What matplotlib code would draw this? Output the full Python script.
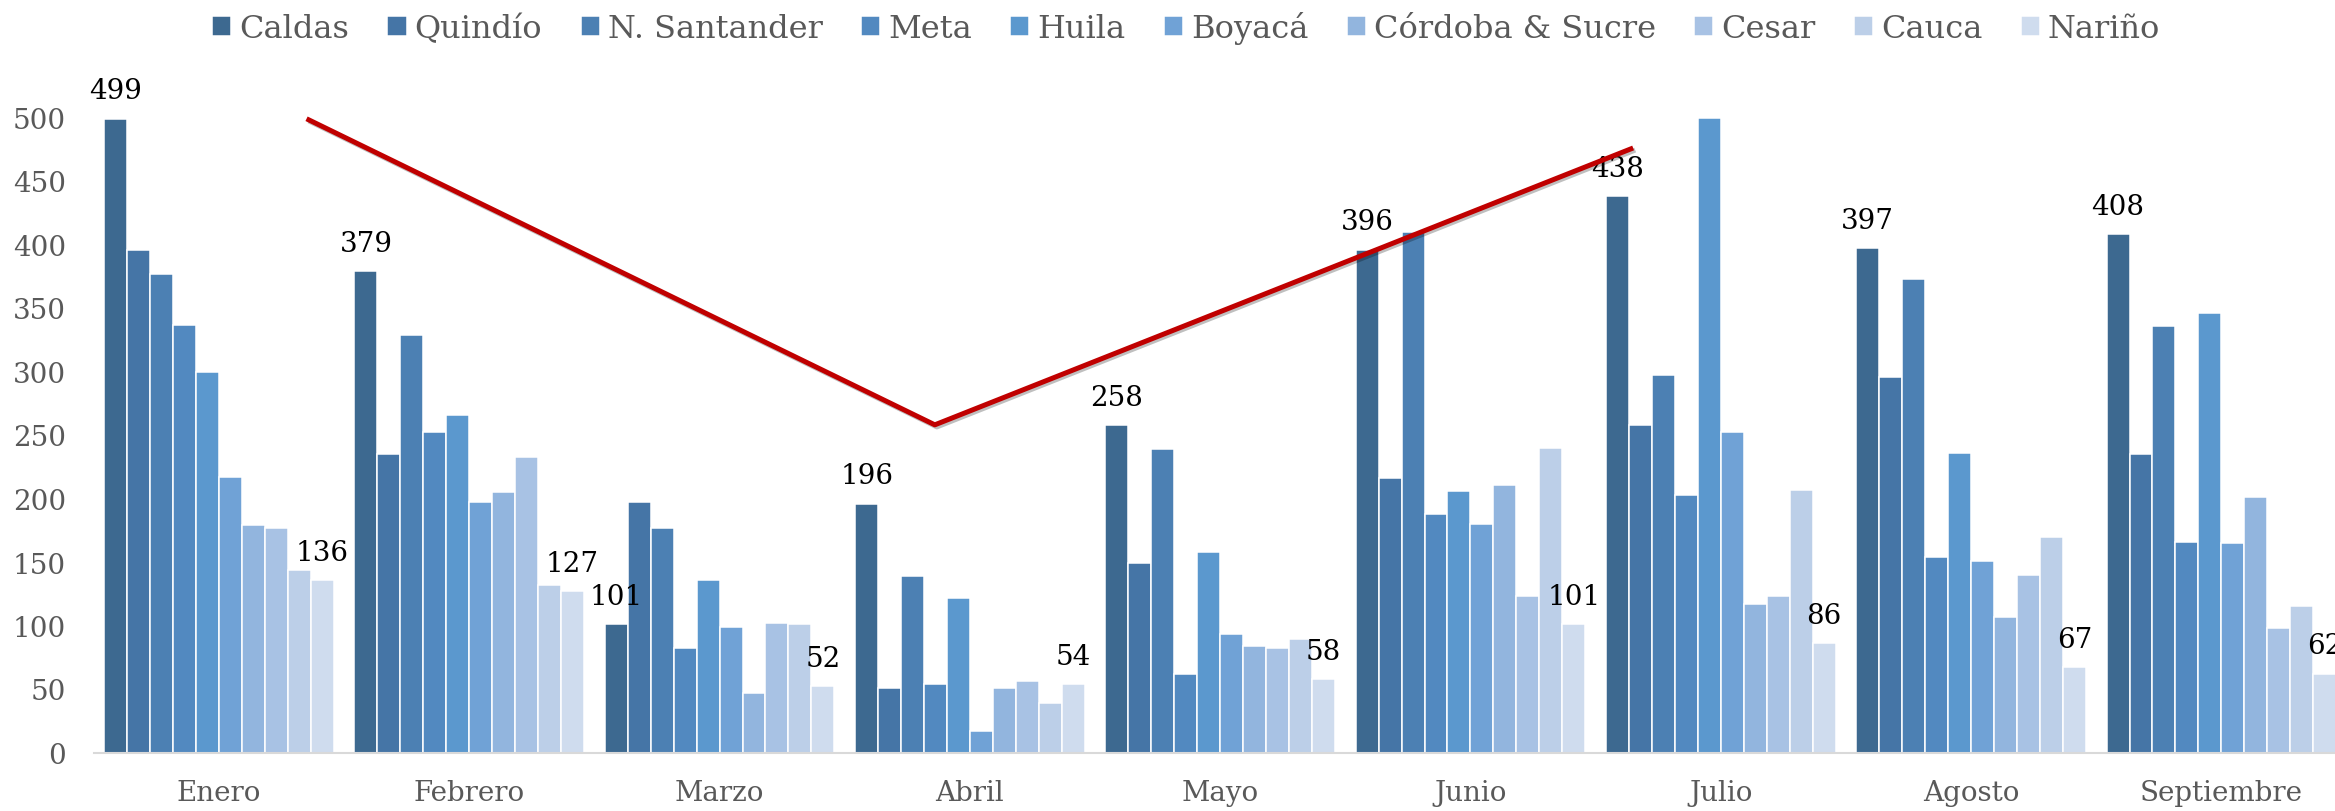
import matplotlib
matplotlib.use("Agg")
import matplotlib.pyplot as plt
import matplotlib.patheffects as pe
import numpy as np

plt.rcParams['font.family'] = ['DejaVu Serif']

months = ["Enero", "Febrero", "Marzo", "Abril", "Mayo", "Junio", "Julio", "Agosto", "Septiembre"]
series_names = ["Caldas", "Quindío", "N. Santander", "Meta", "Huila", "Boyacá",
                "Córdoba & Sucre", "Cesar", "Cauca", "Nariño"]

caldas      = [499, 379, 101, 196, 258, 396, 438, 397, 408]
quindio     = [396, 235, 197, 51, 149, 216, 258, 296, 235]
n_santander = [377, 329, 177, 139, 239, 410, 297, 373, 336]
meta        = [337, 252, 82, 54, 62, 188, 203, 154, 166]
huila       = [300, 266, 136, 122, 158, 206, 500, 236, 346]
boyaca      = [217, 197, 99, 17, 93, 180, 252, 151, 165]
cordoba     = [179, 205, 47, 51, 84, 211, 117, 107, 201]
cesar       = [177, 233, 102, 56, 82, 123, 123, 140, 98]
cauca       = [144, 132, 101, 39, 89, 240, 207, 170, 115]
narino      = [136, 127, 52, 54, 58, 101, 86, 67, 62]

series_values = [caldas, quindio, n_santander, meta, huila, boyaca, cordoba, cesar, cauca, narino]
colors = ["#3D6990", "#4575A6", "#4C80B3", "#5289C0", "#5B98CE", "#70A2D6",
          "#92B5DE", "#A8C2E4", "#BCCFE8", "#CFDCEE"]

# red annotation line (position in category units, value)
trend_x = [0.35, 2.86, 5.65]
trend_y = [499, 258, 476]

W, H = 2335, 812
fig = plt.figure(figsize=(W / 100, H / 100), dpi=100)
ax = fig.add_axes([93.8 / W, 1 - 753.5 / H, 2252.7 / W, (753.5 - 118.5) / H])

n = len(series_values)
bw = 0.0917
x = np.arange(len(months))
handles = []
for j, (vals, col, name) in enumerate(zip(series_values, colors, series_names)):
    pos = x - n * bw / 2 + (j + 0.5) * bw
    b = ax.bar(pos, vals, width=bw, color=col, edgecolor="white", linewidth=1.1,
               label=name, clip_on=False, zorder=2)
    handles.append(b)
    if j == 0 or j == n - 1:
        for xi, v in zip(pos, vals):
            ax.annotate(str(v), (xi, v), xytext=(0, 20), textcoords="offset points",
                        ha="center", va="center", fontsize=20, color="black",
                        annotation_clip=False)

ax.plot(trend_x, trend_y, color="#C00000", linewidth=3.6, solid_capstyle="butt",
        clip_on=False, zorder=4,
        path_effects=[pe.SimpleLineShadow(offset=(1.5, -1.5), alpha=0.25), pe.Normal()])

ax.set_xlim(-0.5, len(months) - 0.5)
ax.set_ylim(0, 500)
ax.set_yticks(np.arange(0, 501, 50))
ax.set_xticks(x)
ax.set_xticklabels(months)
ax.tick_params(axis="y", length=0, pad=20, labelsize=20, labelcolor="#595959")
ax.tick_params(axis="x", length=0, pad=19, labelsize=20, labelcolor="#595959")
for s in ["top", "right", "left"]:
    ax.spines[s].set_visible(False)
ax.spines["bottom"].set_color("#D9D9D9")
ax.spines["bottom"].set_linewidth(1.5)

fig.legend(handles=handles, labels=series_names, loc="center", bbox_to_anchor=(0.508, 0.965),
           ncol=10, frameon=False, fontsize=23, handlelength=0.6, handleheight=0.6,
           handletextpad=0.25, columnspacing=1.2, labelcolor="#595959")

fig.savefig("out.png", dpi=100)
